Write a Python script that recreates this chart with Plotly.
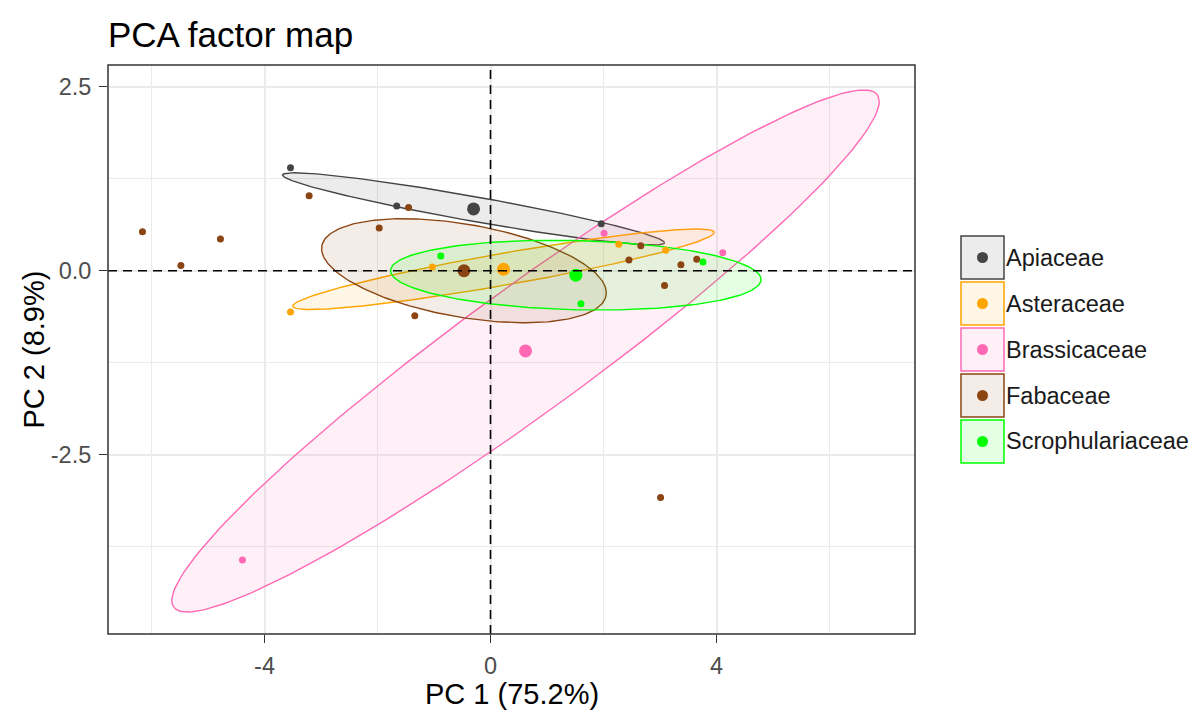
import numpy as np
import plotly.graph_objects as go

# Groups and their colours
groups = ["Apiaceae", "Asteraceae", "Brassicaceae", "Fabaceae", "Scrophulariaceae"]
colors = ["#444444", "#FFA500", "#FF69B4", "#8B4513", "#00FF00"]

# Individual scores on PC1 / PC2, by group
apiaceae_x = [-3.54, -1.66, 1.96]
apiaceae_y = [1.40, 0.88, 0.64]
asteraceae_x = [-3.54, -1.03, 2.27, 3.10]
asteraceae_y = [-0.56, 0.05, 0.36, 0.28]
brassicaceae_x = [2.01, 4.11, -4.39]
brassicaceae_y = [0.51, 0.245, -3.93]
fabaceae_x = [-6.16, -5.48, -4.78, -3.21, -1.45, -1.97, -1.34,
              2.66, 2.45, 3.37, 3.65, 3.08, 3.01]
fabaceae_y = [0.53, 0.07, 0.43, 1.02, 0.86, 0.58, -0.61,
              0.34, 0.145, 0.08, 0.155, -0.20, -3.08]
scroph_x = [-0.88, 3.76, 1.60]
scroph_y = [0.20, 0.12, -0.45]

points_x = [apiaceae_x, asteraceae_x, brassicaceae_x, fabaceae_x, scroph_x]
points_y = [apiaceae_y, asteraceae_y, brassicaceae_y, fabaceae_y, scroph_y]

# Group mean points
centroid_x = [-0.30, 0.23, 0.62, -0.47, 1.51]
centroid_y = [0.84, 0.02, -1.09, 0.00, -0.06]

# Ellipse shape per group: vector from centre to the rightmost point,
# and vertical half-height through the centre
ellipse_ux = [3.38, 3.73, 6.26, 2.52, 3.28]
ellipse_uy = [-0.46, 0.50, 3.39, -0.30, -0.06]
ellipse_h = [0.17, 0.22, 1.04, 0.64, 0.47]

x_ticks = [-4, 0, 4]
x_tick_labels = ["-4", "0", "4"]
y_ticks = [-2.5, 0, 2.5]
y_tick_labels = ["-2.5", "0.0", "2.5"]
x_minor = [-6, -2, 2, 6]
y_minor = [-3.75, -1.25, 1.25]

FONT = "Liberation Sans, Arial, sans-serif"


def rgba(hex_color, alpha):
    h = hex_color.lstrip("#")
    r, g, b = int(h[0:2], 16), int(h[2:4], 16), int(h[4:6], 16)
    return f"rgba({r},{g},{b},{alpha})"


fig = go.Figure()

# Concentration ellipses
t = np.linspace(0, 2 * np.pi, 241)
for i, g in enumerate(groups):
    ex = centroid_x[i] + ellipse_ux[i] * np.cos(t)
    ey = centroid_y[i] + ellipse_uy[i] * np.cos(t) + ellipse_h[i] * np.sin(t)
    fig.add_trace(go.Scatter(
        x=ex, y=ey, mode="lines", fill="toself",
        fillcolor=rgba(colors[i], 0.1),
        line=dict(color=colors[i], width=1.4),
        hoverinfo="skip", showlegend=False,
    ))

# Individuals
for i, g in enumerate(groups):
    fig.add_trace(go.Scatter(
        x=points_x[i], y=points_y[i], mode="markers", name=g,
        marker=dict(color=colors[i], size=7, line=dict(width=0)),
        showlegend=False,
    ))

# Mean points
for i, g in enumerate(groups):
    fig.add_trace(go.Scatter(
        x=[centroid_x[i]], y=[centroid_y[i]], mode="markers", name=g,
        marker=dict(color=colors[i], size=13, line=dict(width=0)),
        showlegend=False,
    ))

# Plot area geometry in pixels
L, R, T, B = 108, 915, 65, 634
W, H = 1204, 715


def px(xp):
    return (xp - L) / (R - L)


def py(yp):
    return (B - yp) / (B - T)


shapes = [
    dict(type="line", xref="x", yref="paper", x0=0, x1=0, y0=0, y1=1,
         line=dict(color="black", width=1.6, dash="9px,6px"), layer="above"),
    dict(type="line", xref="paper", yref="y", x0=0, x1=1, y0=0, y1=0,
         line=dict(color="black", width=1.6, dash="9px,6px"), layer="above"),
    dict(type="rect", xref="paper", yref="paper", x0=0, x1=1, y0=0, y1=1,
         line=dict(color="#333333", width=1.5), layer="above"),
]

annotations = []
# Legend keys
for i, g in enumerate(groups):
    top = 236 + 46 * i
    shapes.append(dict(
        type="rect", xref="paper", yref="paper",
        x0=px(961), x1=px(1004), y0=py(top + 43), y1=py(top),
        fillcolor=rgba(colors[i], 0.1), line=dict(color=colors[i], width=1.5),
    ))
    cx, cy = px(982.5), py(top + 21.5)
    shapes.append(dict(
        type="circle", xref="paper", yref="paper",
        xsizemode="pixel", ysizemode="pixel", xanchor=cx, yanchor=cy,
        x0=-5.5, x1=5.5, y0=-5.5, y1=5.5,
        fillcolor=colors[i], line=dict(width=0),
    ))
    annotations.append(dict(
        text=g, xref="paper", yref="paper", x=px(1004), y=cy,
        xanchor="left", yanchor="middle", showarrow=False,
        font=dict(family=FONT, size=23.5, color="#1A1A1A"),
    ))

# Title and axis titles
annotations.append(dict(
    text="PCA factor map", xref="paper", yref="paper", x=px(106), y=py(35),
    xanchor="left", yanchor="middle", showarrow=False,
    font=dict(family=FONT, size=35, color="black"),
))
annotations.append(dict(
    text="PC 1 (75.2%)", xref="paper", yref="paper", x=0.5, y=py(694),
    xanchor="center", yanchor="middle", showarrow=False,
    font=dict(family=FONT, size=29, color="black"),
))
annotations.append(dict(
    text="PC 2 (8.9%)", xref="paper", yref="paper", x=px(33), y=0.5,
    xanchor="center", yanchor="middle", showarrow=False, textangle=-90,
    font=dict(family=FONT, size=29, color="black"),
))

axis_common = dict(
    showline=False, zeroline=False, showgrid=True,
    gridcolor="#EBEBEB", gridwidth=1.6,
    ticks="outside", ticklen=8, tickwidth=1.4, tickcolor="#333333",
    ticklabelstandoff=3,
    tickfont=dict(family=FONT, size=23.5, color="#4D4D4D"),
)

fig.update_layout(
    width=W, height=H,
    margin=dict(l=L, r=W - R, t=T, b=H - B),
    paper_bgcolor="white", plot_bgcolor="white",
    showlegend=False,
    shapes=shapes, annotations=annotations,
    xaxis=dict(
        range=[-6.77, 7.513], tickvals=x_ticks, ticktext=x_tick_labels,
        minor=dict(tickvals=x_minor, showgrid=True, gridcolor="#EBEBEB",
                   gridwidth=0.8, ticks=""),
        **axis_common,
    ),
    yaxis=dict(
        range=[-4.935, 2.795], tickvals=y_ticks, ticktext=y_tick_labels,
        minor=dict(tickvals=y_minor, showgrid=True, gridcolor="#EBEBEB",
                   gridwidth=0.8, ticks=""),
        **axis_common,
    ),
)

fig.write_html("out.html")
